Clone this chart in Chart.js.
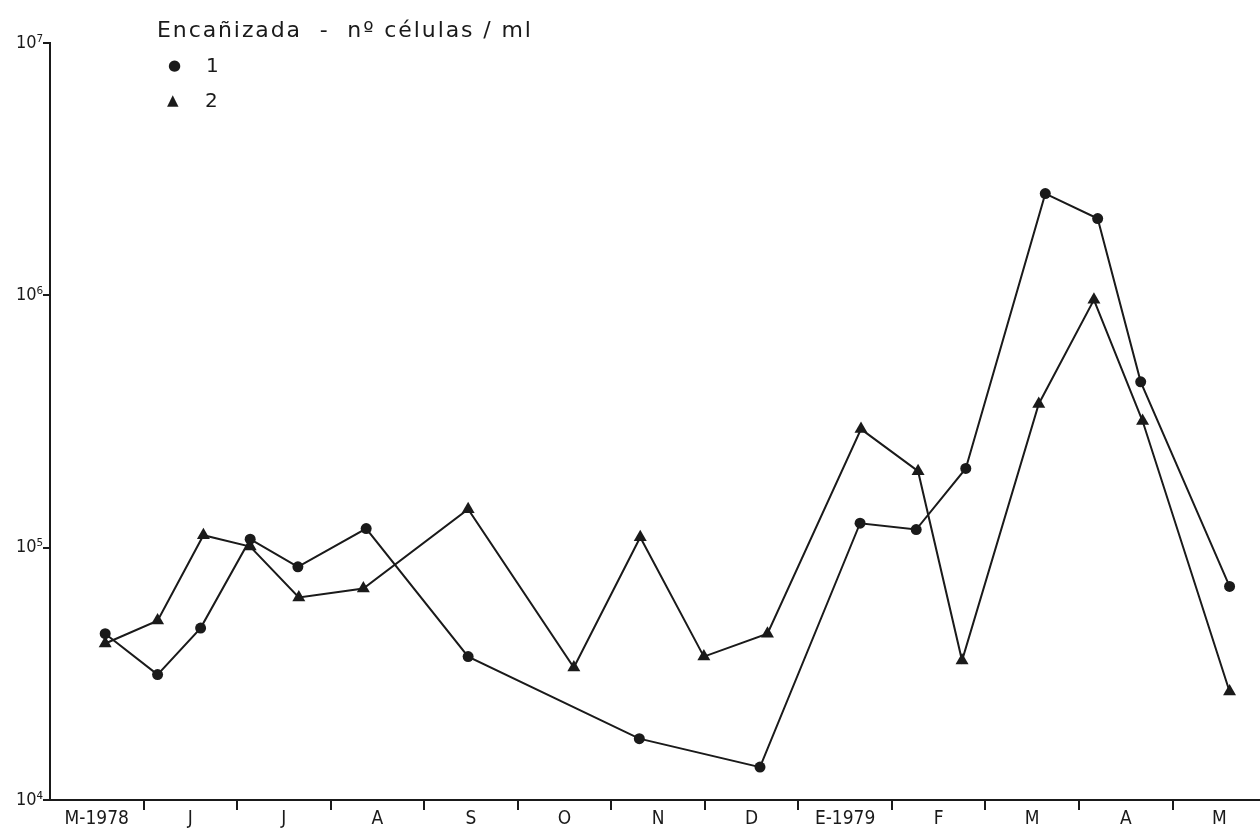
<!DOCTYPE html>
<html>
<head>
<meta charset="utf-8">
<title>Encañizada - nº células / ml</title>
<script src="https://cdn.jsdelivr.net/npm/chart.js@4.4.1/dist/chart.umd.min.js"></script>
<style>
  html, body { margin: 0; padding: 0; background: #fff; overflow: hidden; }
  #wrap { position: relative; width: 1260px; height: 832px; background: #fff; overflow: hidden; }
  #c { position: absolute; left: 0; top: 0; }
  .txt { position: absolute; color: #1a1a1a; white-space: pre; font-family: 'DejaVu Sans', sans-serif; }
  .title { font-size: 22px; letter-spacing: 1.9px; }
  .key { font-size: 20px; }
  .mk { display: inline-block; width: 38px; font-size: 15px; vertical-align: 2px; }
</style>
</head>
<body>
<div id="wrap">
  <canvas id="c" width="1267" height="832"></canvas>
  <div class="txt title" style="left:157px; top:17px;">Encañizada  -  nº células / ml</div>
  <div class="txt key" style="left:168px; top:53px;"><span class="mk">●</span>1</div>
  <div class="txt key" style="left:167px; top:88px;"><span class="mk">▲</span>2</div>
</div>
<script>
// Month labels along the bottom axis (May 1978 – May 1979)
const monthLabels = ['M-1978', 'J', 'J', 'A', 'S', 'O', 'N', 'D', 'E-1979', 'F', 'M', 'A', 'M'];

// Decade ticks on the logarithmic cell-count axis
const yTickValues = [1e4, 1e5, 1e6, 1e7];

// Station 1: sampling date (months after 1 May 1978) and cells per ml
const station1Months = [0.59, 1.15, 1.61, 2.14, 2.65, 3.38, 4.47, 6.30, 7.59, 8.66, 9.26, 9.79, 10.64, 11.20, 11.66, 12.61];
const station1Cells  = [45600, 31400, 48000, 108000, 84000, 119000, 37000, 17500, 13500, 125000, 118000, 206000, 2530000, 2015000, 454000, 70200];

// Station 2: sampling date (months after 1 May 1978) and cells per ml
const station2Months = [0.59, 1.15, 1.64, 2.14, 2.66, 3.35, 4.47, 5.60, 6.31, 6.99, 7.67, 8.67, 9.28, 9.75, 10.57, 11.16, 11.68, 12.61];
const station2Cells  = [41700, 51400, 112000, 101000, 63500, 68900, 142000, 33500, 110000, 37000, 45600, 295000, 201000, 35700, 371000, 960000, 317500, 26900];

const INK = '#1a1a1a';
const FONT = "'DejaVu Sans Condensed', 'DejaVu Sans', sans-serif";
const SUP = { 4: '⁴', 5: '⁵', 6: '⁶', 7: '⁷' };

const toPoints = (xs, ys) => xs.map((x, i) => ({ x: x, y: ys[i] }));

new Chart(document.getElementById('c'), {
  type: 'line',
  data: {
    datasets: [
      {
        label: '1',
        data: toPoints(station1Months, station1Cells),
        borderColor: INK,
        backgroundColor: INK,
        borderWidth: 2,
        pointStyle: 'circle',
        pointRadius: 5.5,
        pointBorderWidth: 0,
        tension: 0
      },
      {
        label: '2',
        data: toPoints(station2Months, station2Cells),
        borderColor: INK,
        backgroundColor: INK,
        borderWidth: 2,
        pointStyle: 'triangle',
        pointRadius: 7.5,
        pointBorderWidth: 0,
        tension: 0
      }
    ]
  },
  options: {
    responsive: false,
    devicePixelRatio: 1,
    animation: false,
    layout: { padding: { top: 43, right: 0, left: 0, bottom: 0 } },
    plugins: { legend: { display: false }, tooltip: { enabled: false } },
    scales: {
      x: {
        type: 'linear',
        min: 0,
        max: 12.93,
        afterBuildTicks: (scale) => {
          // month boundaries carry the tick marks, month centres carry the names
          const t = [];
          monthLabels.forEach((_, i) => { t.push({ value: i }); t.push({ value: i + 0.5 }); });
          scale.ticks = t;
        },
        afterFit: (scale) => {
          scale.height = 32;
          scale.paddingLeft = 0;
          scale.paddingRight = 0;
        },
        ticks: {
          autoSkip: false,
          maxRotation: 0,
          minRotation: 0,
          padding: -2,
          color: INK,
          font: { family: FONT, size: 19 },
          callback: (v) => Number.isInteger(v) ? '' : monthLabels[Math.floor(v)]
        },
        grid: {
          drawOnChartArea: false,
          drawTicks: true,
          tickLength: 10,
          lineWidth: 2,
          color: (ctx) => (ctx.tick && Number.isInteger(ctx.tick.value) && ctx.tick.value > 0) ? INK : 'rgba(0,0,0,0)'
        },
        border: { display: true, color: INK, width: 2 }
      },
      y: {
        type: 'logarithmic',
        min: 1e4,
        max: 1e7,
        afterBuildTicks: (scale) => {
          scale.ticks = yTickValues.map(v => ({ value: v, major: true }));
        },
        afterFit: (scale) => { scale.width = 50; },
        ticks: {
          padding: 0,
          color: INK,
          font: { family: FONT, size: 18 },
          callback: (v) => '10' + SUP[Math.round(Math.log10(v))]
        },
        grid: {
          drawOnChartArea: false,
          drawTicks: true,
          tickLength: 7,
          lineWidth: 2,
          color: INK
        },
        border: { display: true, color: INK, width: 2 }
      }
    }
  }
});
</script>
</body>
</html>
